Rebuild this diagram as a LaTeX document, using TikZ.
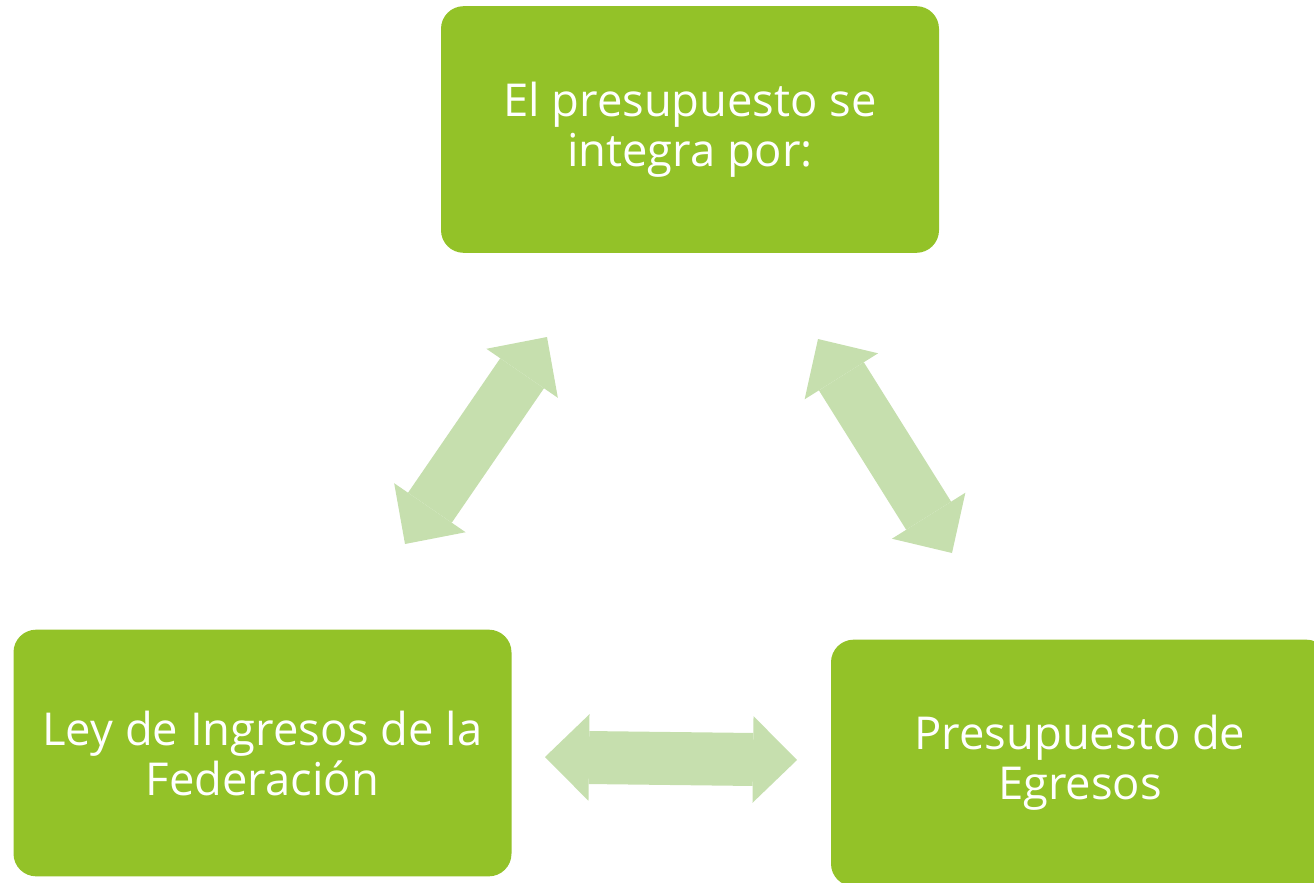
\documentclass[tikz,border=0pt]{standalone}
\usepackage{fontspec}
\setmainfont{Open Sans}
\usetikzlibrary{arrows.meta}
\definecolor{boxgreen}{HTML}{93C228}
\definecolor{arrowgreen}{HTML}{C6DFAE}

\begin{document}
\begin{tikzpicture}[x=0.75pt,y=-0.75pt,
  box/.style={rectangle,rounded corners=17pt,fill=boxgreen,text=white,
    minimum width=373.5pt,minimum height=185pt,align=center,
    font=\fontsize{34}{37.5}\selectfont},
  biarrow/.style={line width=39.75pt,arrowgreen,
    {Triangle[length=33pt,width=65pt,line width=0pt]}-{Triangle[length=33pt,width=65pt,line width=0pt]}}]
\useasboundingbox (0,0) rectangle (1314,882);
\node[box] (top) at (690,129.5) {El presupuesto se\\integra por:};
\node[box] (ley) at (262.5,753) {Ley de Ingresos de la\\Federación};
\node[box] (egr) at (1080,763) {Presupuesto de\\Egresos};
\coordinate (a1) at (547,337);
\coordinate (a2) at (405,544);
\coordinate (b1) at (818,339);
\coordinate (b2) at (952,553);
\coordinate (c1) at (545,757);
\coordinate (c2) at (797,760);
\draw[biarrow] (a2) -- (a1);
\draw[biarrow] (b1) -- (b2);
\draw[biarrow] (c1) -- (c2);
\end{tikzpicture}
\end{document}
